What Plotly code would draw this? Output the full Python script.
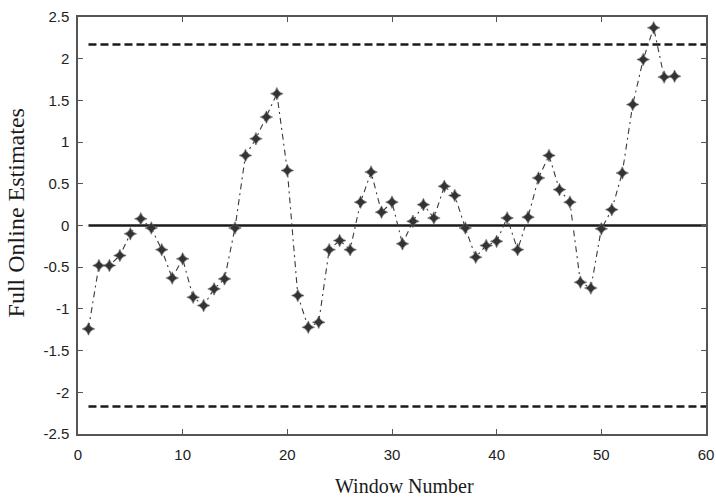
import plotly.graph_objects as go

# Window index and the full online estimate for each window
windows = list(range(1, 58))
estimates = [
    -1.24, -0.48, -0.48, -0.36, -0.10, 0.08, -0.03, -0.29, -0.63, -0.40,
    -0.86, -0.96, -0.76, -0.64, -0.03, 0.84, 1.04, 1.30, 1.58, 0.66,
    -0.84, -1.22, -1.16, -0.29, -0.18, -0.29, 0.28, 0.64, 0.16, 0.28,
    -0.22, 0.05, 0.25, 0.09, 0.47, 0.36, -0.03, -0.38, -0.24, -0.19,
    0.09, -0.29, 0.10, 0.57, 0.84, 0.43, 0.28, -0.68, -0.75, -0.04,
    0.19, 0.63, 1.45, 1.99, 2.37, 1.78, 1.79,
]

# Reference levels: control limits and the centre line
limit_upper = 2.17
limit_lower = -2.17
centre = 0.0
ref_x = [1, 60]

x_ticks = [0, 10, 20, 30, 40, 50, 60]
y_ticks = [2.5, 2, 1.5, 1, 0.5, 0, -0.5, -1, -1.5, -2, -2.5]
y_tick_text = ["2.5", "2", "1.5", "1", "0.5", "0", "-0.5", "-1", "-1.5", "-2", "-2.5"]

ink = "#1a1a1a"
frame = "#555555"

fig = go.Figure()

for level in (limit_upper, limit_lower):
    fig.add_trace(go.Scatter(
        x=ref_x, y=[level, level], mode="lines",
        line=dict(color=ink, width=2.5, dash="8px,4px"),
        showlegend=False, hoverinfo="skip",
    ))

fig.add_trace(go.Scatter(
    x=ref_x, y=[centre, centre], mode="lines",
    line=dict(color=ink, width=2.5),
    showlegend=False, hoverinfo="skip",
))

fig.add_trace(go.Scatter(
    x=windows, y=estimates, mode="lines+markers",
    line=dict(color="#3a3a3a", width=1.1, dash="6px,4px,2px,4px"),
    marker=dict(symbol="star-diamond", size=9, color="#333333",
                line=dict(color="#666666", width=0.6)),
    showlegend=False,
))

axis_common = dict(
    showgrid=False, zeroline=False, showline=True, linecolor=frame,
    linewidth=1.5, mirror="ticks", ticks="inside", ticklen=5,
    tickcolor=frame, tickwidth=1, automargin=False,
    tickfont=dict(family="Liberation Sans, Arial, sans-serif", size=15, color="#222222"),
)

fig.update_layout(
    width=716, height=497,
    margin=dict(l=78, r=10, t=17, b=63),
    paper_bgcolor="white", plot_bgcolor="white",
    xaxis=dict(range=[0, 60], tickvals=x_ticks, ticklabelstandoff=6, **axis_common),
    yaxis=dict(range=[-2.5, 2.5], tickvals=y_ticks, ticktext=y_tick_text,
               ticklabelstandoff=4, **axis_common),
    annotations=[
        dict(text="Window Number", x=0.52, y=-0.125, xref="paper", yref="paper",
             xanchor="center", yanchor="middle", showarrow=False,
             font=dict(family="Liberation Serif, Times New Roman, serif", size=20, color=ink)),
        dict(text="Full Online Estimates", x=-0.098, y=0.53, xref="paper", yref="paper",
             xanchor="center", yanchor="middle", showarrow=False, textangle=-90,
             font=dict(family="Liberation Serif, Times New Roman, serif", size=24, color=ink)),
    ],
)

fig.write_html("out.html")
